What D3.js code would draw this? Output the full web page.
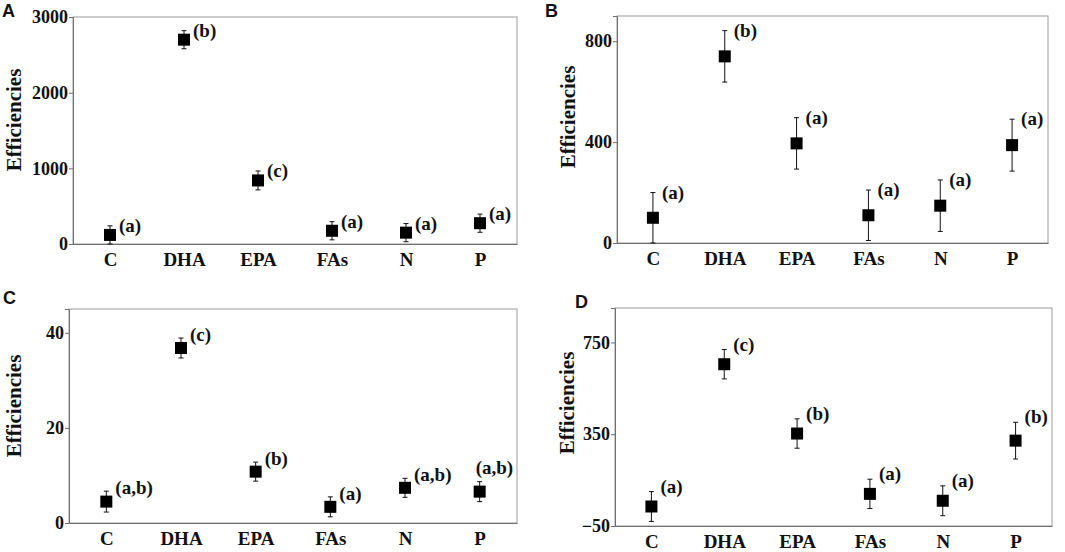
<!DOCTYPE html>
<html>
<head>
<meta charset="utf-8">
<script src="https://cdn.jsdelivr.net/npm/d3@7"></script>
<style>
    body { margin: 0; background: #fff; }
    .tick text, .cat-label, .y-label, .sig-label { font-family: "Liberation Serif", "Times New Roman", serif; font-weight: bold; }
    .panel-letter { font-family: "Liberation Sans", Arial, sans-serif; font-weight: bold; font-size: 18px; }
</style>
</head>
<body>
<div id="chart"></div>
<script>

// categories shared by all four panels
var categories = ["C", "DHA", "EPA", "FAs", "N", "P"];

// Panel A
var meansA = [120, 2700, 840, 175, 150, 275];
var errA = [120, 120, 125, 120, 120, 120];
var lettersA = ["(a)", "(b)", "(c)", "(a)", "(a)", "(a)"];
var ticksA = [0, 1000, 2000, 3000];

// Panel B
var meansB = [100, 740, 395, 110, 148, 388];
var errB = [100, 102, 102, 100, 102, 103];
var lettersB = ["(a)", "(b)", "(a)", "(a)", "(a)", "(a)"];
var ticksB = [0, 400, 800];

// Panel C
var meansC = [4.5, 36.8, 10.8, 3.4, 7.4, 6.6];
var errC = [2.2, 2.1, 2.0, 2.1, 2.0, 2.1];
var lettersC = ["(a,b)", "(c)", "(b)", "(a)", "(a,b)", "(a,b)"];
var ticksC = [0, 20, 40];

// Panel D
var meansD = [35, 655, 353, 90, 60, 322];
var errD = [65, 64, 64, 64, 65, 80];
var lettersD = ["(a)", "(c)", "(b)", "(a)", "(a)", "(b)"];
var ticksD = [-50, 350, 750];


var svg = d3.select("#chart").append("svg")
    .attr("width", 1065)
    .attr("height", 552);

/*
 * One panel: box, y axis, category axis, squares with error bars and letters
 */
function drawPanel(p) {
    var g = svg.append("g")
        .attr("transform", "translate(" + p.left + "," + p.top + ")");

    var width = p.right - p.left;
    var height = p.bottom - p.top;

    var x = d3.scalePoint()
        .domain(categories)
        .range([0, width])
        .padding(0.5);
    var y = d3.scaleLinear()
        .domain(p.domain)
        .range([height, 0]);

    // frame
    g.append("rect")
        .attr("width", width)
        .attr("height", height)
        .attr("fill", "none")
        .attr("stroke", "#9a9a9a")
        .attr("stroke-width", 1);

    // y axis
    var yAxis = g.append("g")
        .attr("class", "axis y-axis")
        .call(d3.axisLeft(y).tickValues(p.ticks).tickSize(4).tickPadding(1).tickFormat(d3.format("d")));
    yAxis.select(".domain").attr("stroke", "#6e6e6e");
    yAxis.selectAll(".tick line").attr("stroke", "#6e6e6e");
    yAxis.selectAll(".tick text")
        .attr("fill", "#111")
        .style("font-size", "18px");

    // x axis (labels only)
    var xAxis = g.append("g")
        .attr("class", "axis x-axis")
        .attr("transform", "translate(0," + height + ")")
        .call(d3.axisBottom(x).tickSize(0).tickPadding(9));
    xAxis.select(".domain").attr("stroke", "#6e6e6e");
    xAxis.selectAll(".tick text")
        .attr("fill", "#111")
        .style("font-size", "19px");

    // y label
    svg.append("text")
        .attr("class", "y-label")
        .attr("transform", "translate(" + p.ylabX + "," + p.ylabY + ") rotate(-90)")
        .style("text-anchor", "middle")
        .style("font-size", "21px")
        .attr("fill", "#111")
        .text("Efficiencies");

    // panel letter
    svg.append("text")
        .attr("class", "panel-letter")
        .attr("x", p.letterX)
        .attr("y", p.letterY)
        .attr("fill", "#111")
        .text(p.name);

    var rows = categories.map(function(c, i) {
        return { cat: c, mean: p.means[i], err: p.errs[i], sig: p.letters[i], above: p.above.indexOf(i) >= 0 };
    });

    // error bars
    var bars = g.selectAll(".err").data(rows).enter().append("g").attr("class", "err")
        .attr("stroke", "#111")
        .attr("stroke-width", 1);
    bars.append("line")
        .attr("x1", function(d) { return x(d.cat); })
        .attr("x2", function(d) { return x(d.cat); })
        .attr("y1", function(d) { return y(d.mean - d.err); })
        .attr("y2", function(d) { return y(d.mean + d.err); });
    bars.append("line")
        .attr("x1", function(d) { return x(d.cat) - 2.5; })
        .attr("x2", function(d) { return x(d.cat) + 2.5; })
        .attr("y1", function(d) { return y(d.mean + d.err); })
        .attr("y2", function(d) { return y(d.mean + d.err); });
    bars.append("line")
        .attr("x1", function(d) { return x(d.cat) - 2.5; })
        .attr("x2", function(d) { return x(d.cat) + 2.5; })
        .attr("y1", function(d) { return y(d.mean - d.err); })
        .attr("y2", function(d) { return y(d.mean - d.err); });

    // square markers
    g.selectAll(".marker").data(rows).enter().append("rect")
        .attr("class", "marker")
        .attr("x", function(d) { return x(d.cat) - 6; })
        .attr("y", function(d) { return y(d.mean) - 6; })
        .attr("width", 12)
        .attr("height", 12)
        .attr("fill", "#000");

    // significance letters
    g.selectAll(".sig-label").data(rows).enter().append("text")
        .attr("class", "sig-label")
        .attr("x", function(d) { return d.above ? x(d.cat) - 4 : x(d.cat) + 9; })
        .attr("y", function(d) { return y(d.mean + d.err) + (d.above ? -8 : p.labelDy); })
        .style("font-size", "19px")
        .attr("fill", "#111")
        .text(function(d) { return d.sig; });
}

drawPanel({ name: "A", means: meansA, errs: errA, letters: lettersA, ticks: ticksA, domain: [0, 3000],
    left: 73, right: 517, top: 17, bottom: 244, labelDy: 6, above: [],
    ylabX: 21, ylabY: 120, letterX: 2, letterY: 17 });
drawPanel({ name: "B", means: meansB, errs: errB, letters: lettersB, ticks: ticksB, domain: [0, 900],
    left: 617, right: 1048, top: 16, bottom: 243, labelDy: 6, above: [],
    ylabX: 575, ylabY: 117, letterX: 545, letterY: 17 });
drawPanel({ name: "C", means: meansC, errs: errC, letters: lettersC, ticks: ticksC, domain: [0, 45],
    left: 69, right: 517, top: 309, bottom: 523, labelDy: 3, above: [5],
    ylabX: 21, ylabY: 406, letterX: 3, letterY: 304 });
drawPanel({ name: "D", means: meansD, errs: errD, letters: lettersD, ticks: ticksD, domain: [-50, 900],
    left: 615, right: 1052, top: 308, bottom: 526, labelDy: 1, above: [],
    ylabX: 574, ylabY: 403, letterX: 575, letterY: 308 });

</script>
</body>
</html>
